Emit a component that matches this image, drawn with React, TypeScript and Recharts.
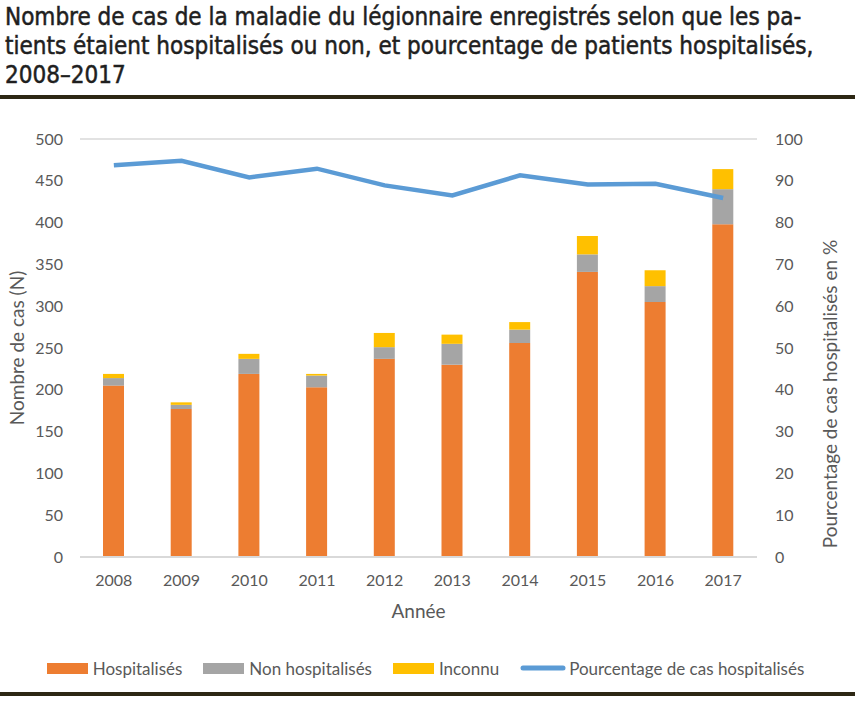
import React from 'react';
import { ComposedChart, Bar, Line, XAxis, YAxis, CartesianGrid, Legend } from 'recharts';

const years = ['2008', '2009', '2010', '2011', '2012', '2013', '2014', '2015', '2016', '2017'];
const hospitalises = [205, 177, 219, 203, 237, 230, 256, 341, 305, 398];
const nonHospitalises = [9, 5, 18, 14, 14, 25, 16, 21, 19, 42];
const inconnu = [5, 3, 6, 2, 17, 11, 9, 22, 19, 24];
const pourcentage = [93.7, 94.8, 90.8, 92.9, 88.9, 86.5, 91.3, 89.1, 89.3, 85.9];
const leftTicks = [0, 50, 100, 150, 200, 250, 300, 350, 400, 450, 500];
const rightTicks = [0, 10, 20, 30, 40, 50, 60, 70, 80, 90, 100];

const data = years.map((y, i) => ({
  year: y,
  hosp: hospitalises[i],
  non: nonHospitalises[i],
  inc: inconnu[i],
  pct: pourcentage[i],
}));

const order = ['Hospitalisés', 'Non hospitalisés', 'Inconnu', 'Pourcentage de cas hospitalisés'];
const FONT = 'Lato, "Open Sans", sans-serif';
const TXT = '#595959';

const LegendContent = (props: any) => {
  const items = [...(props.payload || [])].sort(
    (a: any, b: any) => order.indexOf(a.value) - order.indexOf(b.value)
  );
  return (
    <div style={{ display: 'flex', justifyContent: 'center', alignItems: 'center', height: 30, fontFamily: FONT, fontSize: 17, color: TXT, marginLeft: -8 }}>
      {items.map((it: any, i: number) => (
        <div key={it.value} style={{ display: 'flex', alignItems: 'center', marginLeft: i === 0 ? 0 : 21 }}>
          {it.type === 'line' ? (
            <svg width={46} height={12} style={{ marginRight: 3 }}>
              <line x1={3} y1={6} x2={43} y2={6} stroke={it.color} strokeWidth={5} strokeLinecap="round" />
            </svg>
          ) : (
            <div style={{ width: 41, height: 11, background: it.color, marginRight: 5 }} />
          )}
          <span>{it.value}</span>
        </div>
      ))}
    </div>
  );
};

export default function App() {
  return (
    <div style={{ position: 'absolute', left: 0, top: 0, width: 859, height: 713, background: '#fff', overflow: 'hidden' }}>
      <div
        style={{
          position: 'absolute',
          left: 5,
          top: 3,
          fontFamily: '"Liberation Sans Narrow", "DejaVu Sans Condensed", sans-serif',
          fontSize: 24,
          lineHeight: '29px',
          color: '#1f1f1f',
          whiteSpace: 'nowrap',
          WebkitTextStroke: '0.5px #1f1f1f',
        }}
      >
        Nombre de cas de la maladie du légionnaire enregistrés selon que les pa-
        <br />
        tients étaient hospitalisés ou non, et pourcentage de patients hospitalisés,
        <br />
        2008–2017
      </div>
      <div style={{ position: 'absolute', left: 0, top: 95, width: 855, height: 4, background: '#2d2714' }} />
      <div style={{ position: 'absolute', left: 0, top: 692, width: 855, height: 4, background: '#2d2714' }} />
      <div style={{ position: 'absolute', left: 0, top: 100 }}>
        <ComposedChart
          width={859}
          height={600}
          data={data}
          margin={{ top: 39, right: 0, left: 0, bottom: 17 }}
          barSize={21}
        >
          <CartesianGrid vertical={false} stroke="#d9d9d9" strokeWidth={1.5} />
          <XAxis
            dataKey="year"
            height={96}
            tickSize={0}
            tickMargin={18}
            axisLine={{ stroke: '#d9d9d9', strokeWidth: 2 }}
            tick={{ fill: TXT, fontSize: 16, fontFamily: FONT }}
            label={{ value: 'Année', position: 'insideBottom', offset: 35, fill: TXT, fontSize: 19, fontFamily: FONT }}
          />
          <YAxis
            yAxisId="left"
            width={80}
            domain={[0, 500]}
            ticks={leftTicks}
            tickSize={0}
            tickMargin={17}
            axisLine={false}
            tick={{ fill: TXT, fontSize: 16, fontFamily: FONT }}
            label={{ value: 'Nombre de cas (N)', angle: -90, position: 'center', dx: -23, fill: TXT, fontSize: 19, fontFamily: FONT }}
          />
          <YAxis
            yAxisId="right"
            orientation="right"
            width={102}
            domain={[0, 100]}
            ticks={rightTicks}
            tickSize={0}
            tickMargin={18}
            axisLine={false}
            tick={{ fill: TXT, fontSize: 16, fontFamily: FONT, textAnchor: 'start' }}
            label={{ value: 'Pourcentage de cas hospitalisés en %', angle: -90, position: 'center', dx: 22, dy: 46, fill: TXT, fontSize: 19, fontFamily: FONT }}
          />
          <Legend verticalAlign="bottom" content={<LegendContent />} />
          <Bar yAxisId="left" dataKey="hosp" name="Hospitalisés" stackId="a" fill="#ED7D31" isAnimationActive={false} />
          <Bar yAxisId="left" dataKey="non" name="Non hospitalisés" stackId="a" fill="#A5A5A5" isAnimationActive={false} />
          <Bar yAxisId="left" dataKey="inc" name="Inconnu" stackId="a" fill="#FFC000" isAnimationActive={false} />
          <Line
            yAxisId="right"
            dataKey="pct"
            name="Pourcentage de cas hospitalisés"
            type="linear"
            stroke="#5B9BD5"
            strokeWidth={4.5}
            dot={false}
            legendType="line"
            isAnimationActive={false}
          />
        </ComposedChart>
      </div>
    </div>
  );
}
